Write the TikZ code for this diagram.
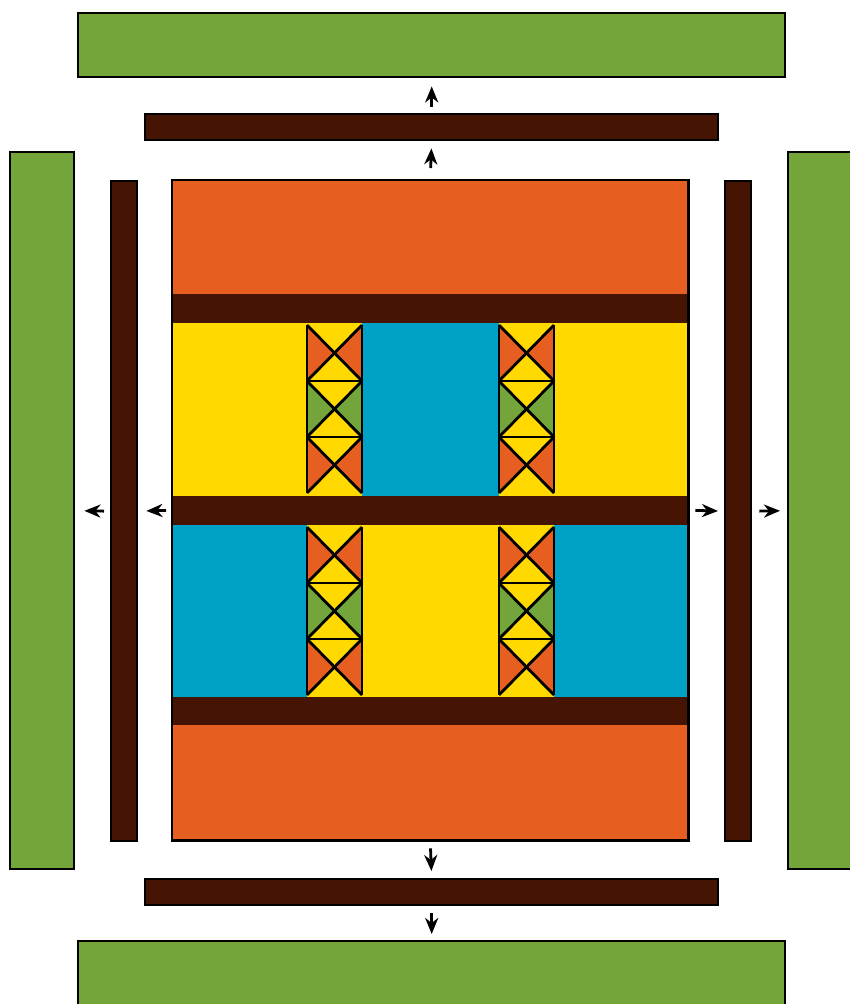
\documentclass[tikz,border=0pt]{standalone}
\usetikzlibrary{arrows.meta}
\definecolor{cgreen}{RGB}{115,165,58}
\definecolor{cdark}{RGB}{69,20,2}
\definecolor{corange}{RGB}{230,95,33}
\definecolor{cyellow}{RGB}{255,217,0}
\definecolor{cblue}{RGB}{0,161,199}
\tikzset{
  box/.style={draw=black, line width=2.4pt, inner sep=0pt, anchor=north west},
  band/.style={fill=cdark, draw=none, inner sep=0pt, anchor=north west},
  flow/.style={-{Stealth[length=16pt,width=13pt,inset=5pt]}, line width=2.8pt, black},
  tileline/.style={draw=black, line width=2.8pt, line cap=butt, line join=miter}
}
% one tile cell: #1=x0, #2=y0, #3=cell height, #4 side colour
\newcommand{\tilecell}[4]{%
  \fill[cyellow] (#1,#2) rectangle ++(55,#3);
  \fill[#4] (#1,#2) -- ++(27.5,#3/2) -- (#1,#2+#3) -- cycle;
  \fill[#4] (#1+55,#2) -- ++(-27.5,#3/2) -- (#1+55,#2+#3) -- cycle;
  \draw[tileline] (#1,#2) -- ++(55,#3);
  \draw[tileline] (#1+55,#2) -- ++(-55,#3);
}
\newcommand{\tilecol}[2]{%
  \tilecell{#1}{#2}{56}{corange}
  \tilecell{#1}{#2+56}{56}{cgreen}
  \tilecell{#1}{#2+112}{56}{corange}
  \draw[tileline] (#1,#2) -- (#1,#2+168);
  \draw[tileline] (#1+55,#2) -- (#1+55,#2+168);
  \draw[tileline] (#1,#2+56) -- ++(55,0);
  \draw[tileline] (#1,#2+112) -- ++(55,0);
}
\begin{document}
\begin{tikzpicture}[x=1pt,y=-1pt]
\clip (0,0) rectangle (850,1004);
\fill[white] (0,0) rectangle (850,1004);
% outer green boxes
\node[box, fill=cgreen, minimum width=707pt, minimum height=64pt] (gtop) at (77,12) {};
\node[box, fill=cgreen, minimum width=707pt, minimum height=70pt] (gbot) at (77,940) {};
\node[box, fill=cgreen, minimum width=64pt, minimum height=717pt] (gleft) at (9,151) {};
\node[box, fill=cgreen, minimum width=70pt, minimum height=717pt] (gright) at (787,151) {};
% dark bars
\node[box, fill=cdark, minimum width=573pt, minimum height=26pt] (dtop) at (144,113) {};
\node[box, fill=cdark, minimum width=573pt, minimum height=26pt] (dbot) at (144,878) {};
\node[box, fill=cdark, minimum width=26pt, minimum height=660pt] (dleft) at (110,180) {};
\node[box, fill=cdark, minimum width=26pt, minimum height=660pt] (dright) at (724,180) {};
% main block
\node[band, fill=corange, minimum width=516pt, minimum height=660pt] (main) at (172,180) {};
\node[band, fill=cyellow, minimum width=516pt, minimum height=174pt] (rowA) at (172,322) {};
\node[band, fill=cblue, minimum width=137pt, minimum height=174pt] (rowAc) at (362,322) {};
\node[band, fill=cblue, minimum width=516pt, minimum height=174pt] (rowB) at (172,524) {};
\node[band, fill=cyellow, minimum width=247pt, minimum height=174pt] (rowBc) at (307,524) {};
\node[band, minimum width=516pt, minimum height=29pt] (b1) at (172,294) {};
\node[band, minimum width=516pt, minimum height=29pt] (b2) at (172,496) {};
\node[band, minimum width=516pt, minimum height=28pt] (b3) at (172,697) {};
% tiles
\tilecol{307}{325}
\tilecol{499}{325}
\tilecol{307}{527}
\tilecol{499}{527}
% main outline
\draw[line width=2.4pt] (main.north west) rectangle (main.south east);
% arrows
\draw[flow, shorten <=12pt, shorten >=7pt] (main.north) -- (dtop.south);
\draw[flow, shorten <=6pt, shorten >=8pt] (dtop.north) -- (gtop.south);
\draw[flow, shorten <=8pt, shorten >=7pt] (main.south) -- (dbot.north);
\draw[flow, shorten <=7pt, shorten >=6pt] (dbot.south) -- (gbot.north);
\draw[flow, shorten <=6pt, shorten >=8pt] (main.west) -- (dleft.east);
\draw[flow, shorten <=6pt, shorten >=9pt] (dleft.west) -- (gleft.east);
\draw[flow, shorten <=7pt, shorten >=6pt] (main.east) -- (dright.west);
\draw[flow, shorten <=7pt, shorten >=7pt] (dright.east) -- (gright.west);
\end{tikzpicture}
\end{document}
